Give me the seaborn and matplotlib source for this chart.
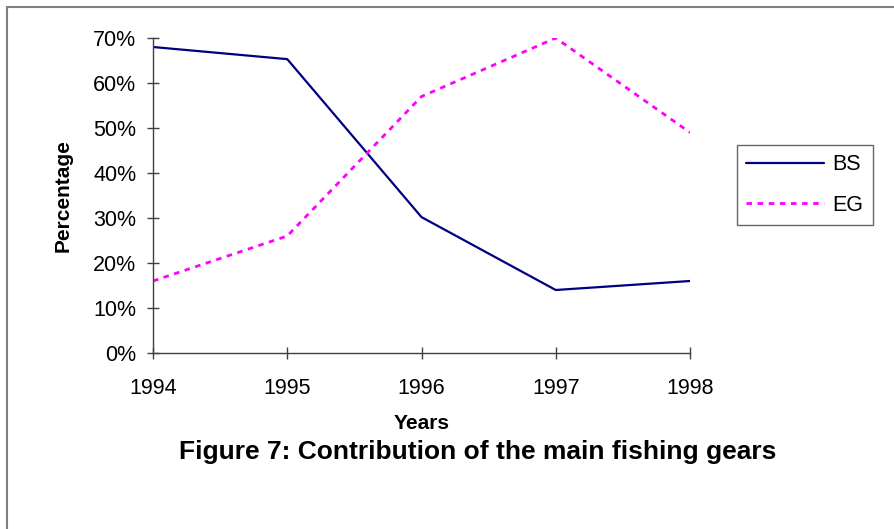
import pandas as pd
import seaborn as sns
import matplotlib.pyplot as plt
from matplotlib.lines import Line2D
from matplotlib.ticker import PercentFormatter

# Данные
years = [1994, 1995, 1996, 1997, 1998]
bs = [68.0, 65.3, 30.2, 14.0, 16.0]
eg = [16.0, 26.0, 57.0, 70.0, 49.0]
gears = ['BS', 'EG']

data = pd.DataFrame({
    'Years': years * 2,
    'Percentage': bs + eg,
    'Gear': ['BS'] * len(years) + ['EG'] * len(years),
})

sns.set_style('white')
plt.rcParams['font.family'] = ['Liberation Sans', 'DejaVu Sans']
plt.rcParams['text.color'] = 'black'

fig = plt.figure(figsize=(8.95, 5.29), dpi=100)
ax = fig.add_axes([153 / 895, 1 - 353 / 529, (690 - 153) / 895, (353 - 38) / 529])

sns.lineplot(data=data, x='Years', y='Percentage', hue='Gear', style='Gear',
             palette={'BS': '#000080', 'EG': '#FF00FF'},
             dashes={'BS': '', 'EG': (2, 2)},
             linewidth=1.6, ax=ax, legend=False)
ax.lines[1].set_linewidth(2.0)

ax.set_xlim(1994, 1998)
ax.set_ylim(0, 70)
ax.set_xticks(years)
ax.set_yticks(range(0, 71, 10))
ax.yaxis.set_major_formatter(PercentFormatter(decimals=0))
ax.tick_params(direction='inout', length=8, width=1, color='#404040',
               labelsize=15.5, labelcolor='black', left=True, bottom=True)
ax.tick_params(axis='x', pad=14)
ax.tick_params(axis='y', pad=8)

sns.despine(ax=ax)
for side in ['left', 'bottom']:
    ax.spines[side].set_color('#404040')
    ax.spines[side].set_linewidth(1)

ax.set_xlabel('Years', fontsize=15, fontweight='bold', labelpad=11, color='black')
ax.set_ylabel('Percentage', fontsize=15, fontweight='bold', labelpad=15, color='black')

# Легенда
handles = [Line2D([], [], color='#000080', lw=1.6),
           Line2D([], [], color='#FF00FF', lw=2.0, dashes=(2, 2))]
leg = fig.legend(handles, gears, loc='center', bbox_to_anchor=(805 / 895, 1 - 185 / 529),
                 fontsize=15.5, frameon=True, fancybox=False, handlelength=3.6,
                 borderpad=0.45, labelspacing=0.9, handletextpad=0.4)
leg.get_frame().set_edgecolor('#404040')
leg.get_frame().set_linewidth(1)

fig.text(478 / 895, 1 - 452 / 529, 'Figure 7: Contribution of the main fishing gears',
         ha='center', va='center', fontsize=19, fontweight='bold')

# Рамка рисунка
fig.add_artist(Line2D([7 / 895, 7 / 895], [0, 1 - 7 / 529], color='#808080', lw=1.5))
fig.add_artist(Line2D([7 / 895, 1], [1 - 7 / 529, 1 - 7 / 529], color='#808080', lw=1.5))

fig.savefig('out.png', dpi=100)
